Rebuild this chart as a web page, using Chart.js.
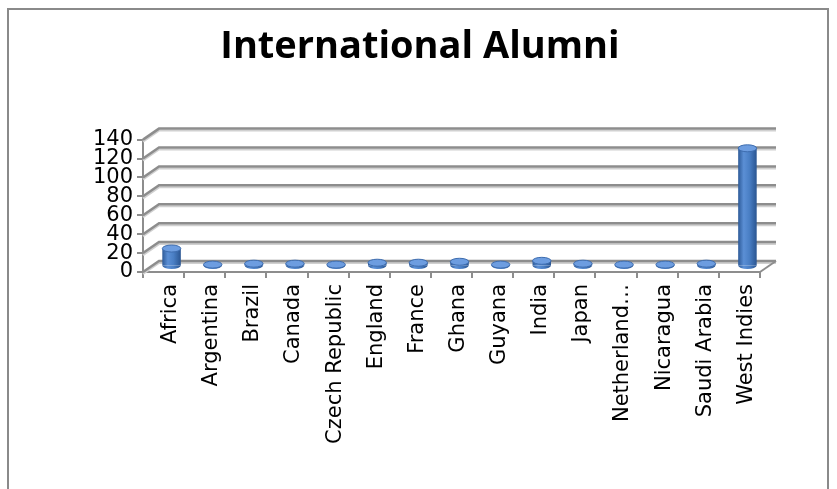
<!DOCTYPE html>
<html>
<head>
<meta charset="utf-8">
<script src="https://cdn.jsdelivr.net/npm/chart.js@4.4.1/dist/chart.umd.min.js"></script>
<style>
  html, body { margin: 0; padding: 0; background: #fff; }
  #wrap { position: relative; width: 837px; height: 489px; overflow: hidden; }
  #frame { position: absolute; left: 7px; top: 8px; width: 822px; height: 500px; border: 2px solid #8a8a8a; box-sizing: border-box; }
  #chart { position: absolute; left: 0; top: 0; }
</style>
</head>
<body>
<div id="wrap">
  <div id="frame"></div>
  <canvas id="chart" width="837" height="489"></canvas>
</div>
<script>
// data
const categories = ['Africa', 'Argentina', 'Brazil', 'Canada', 'Czech Republic', 'England', 'France',
  'Ghana', 'Guyana', 'India', 'Japan', 'Netherland\u2026', 'Nicaragua', 'Saudi Arabia', 'West Indies'];
const alumni = [19, 2, 3, 3, 2, 4, 4, 5, 2, 6, 3, 2, 2, 3, 125];
const yTicks = { min: 0, max: 140, step: 20 };

// fake 3d depth of the back wall
const DX = 16, DY = -11;
const GRID = '#8d8d8d';
const BAR_PCT = 0.45;

function barFill(c) {
  const chart = c.chart;
  const xs = chart.scales && chart.scales.x;
  if (!xs || c.dataIndex === undefined) return '#4a7ebf';
  const cx = xs.getPixelForValue(c.dataIndex);
  const hw = xs.width / categories.length * BAR_PCT / 2;
  if (!isFinite(cx) || !isFinite(hw) || hw <= 0) return '#4a7ebf';
  const g = chart.ctx.createLinearGradient(cx - hw, 0, cx + hw, 0);
  g.addColorStop(0, '#2d5a98');
  g.addColorStop(0.3, '#5b8fd5');
  g.addColorStop(0.6, '#4a7fc5');
  g.addColorStop(1, '#2a5591');
  return g;
}

const wall3d = {
  id: 'wall3d',
  beforeDatasetsDraw(chart) {
    const ctx = chart.ctx;
    const { left, right, bottom } = chart.chartArea;
    const y = chart.scales.y;
    ctx.save();
    y.ticks.forEach(t => {
      const yy = y.getPixelForValue(t.value);
      // soft shadow under each line
      ctx.strokeStyle = '#d0d0d0';
      ctx.lineWidth = 2;
      ctx.beginPath();
      ctx.moveTo(left, yy + 2);
      ctx.lineTo(left + DX, yy + DY + 2);
      ctx.lineTo(right + DX, yy + DY + 2);
      ctx.stroke();
      ctx.strokeStyle = GRID;
      ctx.lineWidth = 2.5;
      ctx.beginPath();
      ctx.moveTo(left, yy);
      ctx.lineTo(left + DX, yy + DY);
      ctx.lineTo(right + DX, yy + DY);
      ctx.stroke();
    });
    // right edge of the floor
    ctx.lineWidth = 2;
    ctx.beginPath();
    ctx.moveTo(right, bottom);
    ctx.lineTo(right + DX, bottom + DY);
    ctx.stroke();
    ctx.restore();
  },
  beforeDatasetDraw(chart) {
    chart.ctx.save();
    chart.ctx.translate(DX / 2, DY / 2);
  },
  afterDatasetDraw(chart, args) {
    const ctx = chart.ctx;
    args.meta.data.forEach((bar, i) => {
      const hw = bar.width / 2;
      const ry = 3.5;
      // bottom of the cylinder
      ctx.fillStyle = barFill({ chart, dataIndex: i });
      ctx.beginPath();
      ctx.ellipse(bar.x, bar.base, hw, ry, 0, 0, Math.PI);
      ctx.fill();
      // top cap
      ctx.fillStyle = '#6d9de0';
      ctx.strokeStyle = '#3d6cae';
      ctx.lineWidth = 1;
      ctx.beginPath();
      ctx.ellipse(bar.x, bar.y, hw, ry, 0, 0, Math.PI * 2);
      ctx.fill();
      ctx.stroke();
    });
    ctx.restore();
  }
};

const tickFont = { family: 'DejaVu Sans', size: 21 };

new Chart(document.getElementById('chart'), {
  type: 'bar',
  data: {
    labels: categories,
    datasets: [{
      data: alumni,
      backgroundColor: barFill,
      borderWidth: 0,
      barPercentage: BAR_PCT,
      categoryPercentage: 1,
      clip: false
    }]
  },
  options: {
    responsive: false,
    animation: false,
    events: [],
    layout: { padding: { top: 8, left: 80, right: 77, bottom: 0 } },
    plugins: {
      legend: { display: false },
      tooltip: { enabled: false },
      title: {
        display: true,
        text: 'International Alumni',
        color: '#000',
        font: { family: 'Open Sans', weight: 'bold', size: 38 },
        padding: { top: 16, bottom: 70 }
      }
    },
    scales: {
      x: {
        offset: true,
        afterFit(s) { s.height = 217; },
        grid: { offset: true, drawOnChartArea: false, drawTicks: true, tickLength: 6, color: GRID, lineWidth: 2 },
        border: { display: true, color: GRID, width: 2 },
        ticks: { color: '#000', font: tickFont, autoSkip: false, maxRotation: 90, minRotation: 90, padding: 6, labelOffset: 7 }
      },
      y: {
        min: yTicks.min,
        max: yTicks.max,
        afterFit(s) { s.width = 63; },
        grid: { drawOnChartArea: false, drawTicks: true, tickLength: 6, color: GRID, lineWidth: 2 },
        border: { display: true, color: GRID, width: 2 },
        ticks: { stepSize: yTicks.step, autoSkip: false, color: '#000', font: tickFont, padding: 4 }
      }
    }
  },
  plugins: [wall3d]
});
</script>
</body>
</html>
